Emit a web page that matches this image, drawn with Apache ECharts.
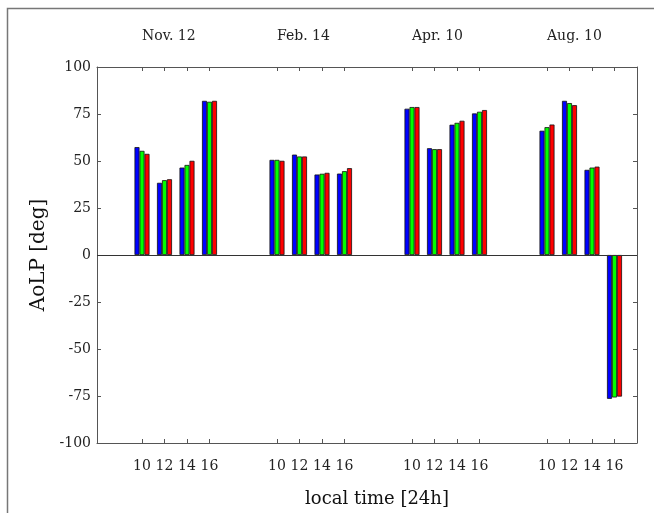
<!DOCTYPE html>
<html>
<head>
<meta charset="utf-8">
<script src="https://cdn.jsdelivr.net/npm/echarts@6/dist/echarts.min.js"></script>
<style>html,body{margin:0;padding:0;background:#fff}#c{width:654px;height:513px}</style>
</head>
<body>
<div id="c"></div>
<script>
const dates = ['Nov. 12', 'Feb. 14', 'Apr. 10', 'Aug. 10'];
const hours = [10, 12, 14, 16];
const groupSpan = 12;
// values per date group, hours 10,12,14,16
const blueVals  = [57.4, 38.4, 46.5, 82.0,  50.6, 53.4, 42.8, 43.3,  77.8, 56.8, 69.3, 75.3,  66.1, 82.0, 45.3, -76.5];
const greenVals = [55.4, 39.8, 47.9, 81.5,  50.6, 52.4, 43.2, 44.6,  78.7, 56.3, 70.3, 76.2,  68.0, 80.8, 46.5, -75.8];
const redVals   = [53.8, 40.3, 50.1, 82.0,  50.1, 52.4, 43.7, 46.2,  78.7, 56.3, 71.4, 77.1,  69.4, 79.7, 47.0, -75.3];
const yTicks = [-100, -75, -50, -25, 0, 25, 50, 75, 100];

const positions = [];
const posLabel = {};
dates.forEach((d, g) => hours.forEach(h => { const p = h + groupSpan * g; positions.push(p); posLabel[p] = String(h); }));
const dateStarts = dates.map((d, g) => hours[0] + groupSpan * g);
const dateLabel = {};
dateStarts.forEach((p, g) => dateLabel[p] = dates[g]);

const FONT = 'DejaVu Serif';
const TXT = '#222';
const AX = '#555';

function bar(name, vals, color, withZero) {
  const s = {
    name, type: 'bar', xAxisIndex: 0, yAxisIndex: 0,
    data: positions.map((p, i) => [p, vals[i]]),
    barWidth: 5, barGap: '0%',
    itemStyle: { color, borderColor: '#111', borderWidth: 0.8 },
    silent: true
  };
  if (withZero) {
    s.markLine = { silent: true, symbol: 'none', label: { show: false },
      lineStyle: { color: '#333', width: 1, type: 'solid' }, data: [{ yAxis: 0 }] };
  }
  return s;
}

const chart = echarts.init(document.getElementById('c'), null, { renderer: 'canvas' });
chart.setOption({
  animation: false,
  backgroundColor: '#fff',
  grid: { left: 97, right: 17, top: 67, bottom: 70 },
  graphic: [{ type: 'rect', shape: { x: 7.5, y: 8.5, width: 800, height: 800 }, style: { fill: 'none', stroke: '#777', lineWidth: 1.5 }, silent: true }],
  xAxis: [{
    type: 'value', position: 'bottom', min: 6, max: 54,
    axisLine: { show: true, onZero: false, lineStyle: { color: AX, width: 1 } },
    axisTick: { show: true, inside: true, length: 4, customValues: positions, lineStyle: { color: AX } },
    axisLabel: { customValues: positions, formatter: v => posLabel[v] || '', fontFamily: FONT, fontSize: 14, color: TXT, margin: 16 },
    splitLine: { show: false },
    name: 'local time [24h]', nameLocation: 'middle', nameGap: 47,
    nameTextStyle: { fontFamily: FONT, fontSize: 18, color: '#111', padding: [0, 0, 0, 20] }
  }, {
    type: 'value', position: 'top', min: 6, max: 54,
    axisLine: { show: true, onZero: false, lineStyle: { color: AX, width: 1 } },
    axisTick: { show: true, inside: true, length: 4, customValues: positions, lineStyle: { color: AX } },
    axisLabel: { customValues: dateStarts, formatter: v => dateLabel[v] || '', align: 'left', fontFamily: FONT, fontSize: 14, color: TXT, margin: 24 },
    splitLine: { show: false }
  }],
  yAxis: [{
    type: 'value', position: 'left', min: -100, max: 100, interval: 25,
    axisLine: { show: true, onZero: false, lineStyle: { color: AX, width: 1 } },
    axisTick: { show: true, inside: true, length: 4, customValues: yTicks, lineStyle: { color: AX } },
    axisLabel: { customValues: yTicks, fontFamily: FONT, fontSize: 14, color: TXT, margin: 6 },
    splitLine: { show: false },
    name: 'AoLP [deg]', nameLocation: 'middle', nameGap: 46, nameRotate: 90,
    nameTextStyle: { fontFamily: FONT, fontSize: 20, color: '#111' }
  }, {
    type: 'value', position: 'right', min: -100, max: 100, interval: 25,
    axisLine: { show: true, onZero: false, lineStyle: { color: AX, width: 1 } },
    axisTick: { show: true, inside: true, length: 4, customValues: yTicks, lineStyle: { color: AX } },
    axisLabel: { show: false },
    splitLine: { show: false }
  }],
  series: [
    bar('blue', blueVals, '#0000ff', true),
    bar('green', greenVals, '#00ff00', false),
    bar('red', redVals, '#ff0000', false)
  ]
});
</script>
</body>
</html>
